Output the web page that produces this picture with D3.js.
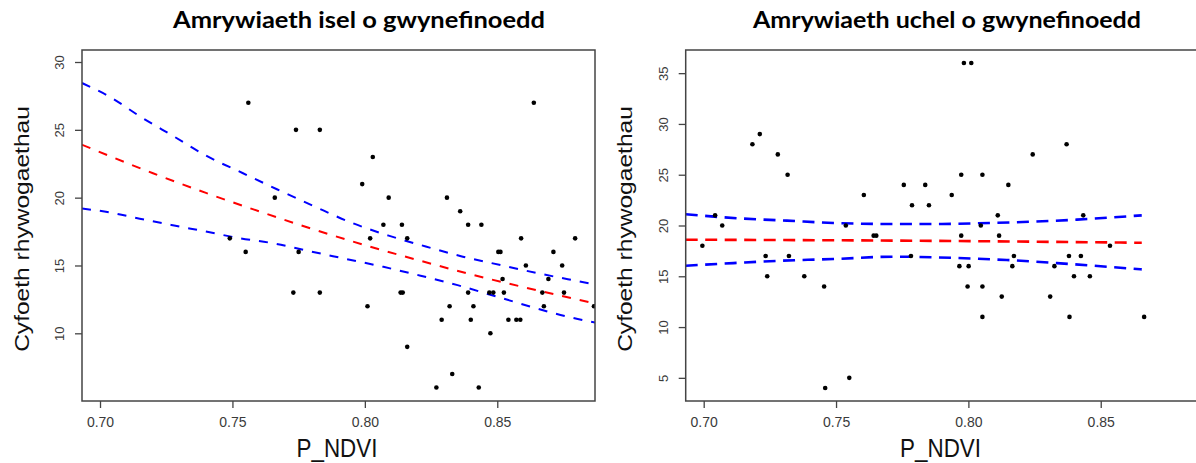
<!DOCTYPE html>
<html><head><meta charset="utf-8">
<script src="https://cdn.jsdelivr.net/npm/d3@7/dist/d3.min.js"></script>
<style>body{margin:0;background:#fff;} svg{display:block;}</style>
</head><body>
<svg id="c" width="1196" height="463"></svg>
<script>
// ---- Data: low habitat diversity panel ----
const lowNdvi = [0.749,0.755,0.756,0.766,0.773,0.774,0.775,0.783,0.783,0.799,0.801,0.802,0.803,0.807,0.809,0.8135,0.8143,0.814,0.816,0.816,0.827,0.829,0.831,0.832,0.833,0.836,0.839,0.839,0.840,0.841,0.843,0.844,0.847,0.8485,0.8474,0.8504,0.8512,0.852,0.8525,0.8542,0.8572,0.8587,0.859,0.8608,0.8638,0.867,0.8676,0.8693,0.8712,0.8745,0.8752,0.8794,0.8865];
const lowRichness = [17,16,27,20,13,25,16,25,13,21,12,17,23,18,20,13,13,18,17,9,6,11,20,12,7,19,18,13,11,12,6,18,13,13,10,16,16,14,13,11,11,11,17,15,27,13,12,14,16,15,13,17,12];
const lowFitX = [0.6932,0.72,0.74,0.76,0.78,0.80,0.82,0.84,0.86,0.887];
const lowFit = [23.9,21.8,20.35,19.0,17.7,16.5,15.4,14.35,13.4,12.2];
const lowUpperX = [0.6932,0.704,0.715,0.728,0.740,0.754,0.767,0.781,0.795,0.809,0.823,0.837,0.852,0.866,0.879,0.887];
const lowUpper = [28.45,27.4,26.0,24.5,23.1,21.8,20.6,19.35,18.15,17.2,16.4,15.65,15.0,14.4,13.9,13.6];
const lowLowerX = [0.6932,0.704,0.715,0.728,0.740,0.753,0.765,0.778,0.7925,0.807,0.821,0.835,0.849,0.862,0.877,0.887];
const lowLower = [19.2,18.9,18.45,17.95,17.5,17.0,16.65,16.1,15.5,14.9,14.25,13.55,12.75,12.0,11.2,10.8];
const lowYTicks = [10,15,20,25,30];

// ---- Data: high habitat diversity panel ----
const highNdvi = [0.6995,0.7043,0.707,0.7184,0.7212,0.7234,0.724,0.728,0.7317,0.7322,0.738,0.7455,0.7459,0.7537,0.755,0.7605,0.7642,0.7652,0.7756,0.7783,0.7787,0.7837,0.7851,0.7937,0.7966,0.7973,0.7973,0.7983,0.7997,0.8001,0.8011,0.8047,0.8053,0.8053,0.8053,0.8111,0.8116,0.8126,0.8151,0.8166,0.8172,0.8243,0.8309,0.8325,0.8371,0.838,0.8382,0.8399,0.8425,0.8434,0.8459,0.8535,0.8664];
const highRichness = [18,21,20,28,29,17,15,27,25,17,15,14,4,20,5,23,19,19,24,17,22,24,22,23,16,25,19,36,14,16,36,20,25,14,11,21,19,13,24,16,17,27,13,16,28,17,11,15,17,21,15,18,11];
const highFitX = [0.6932,0.78,0.8655];
const highFit = [18.6,18.5,18.3];
const highUpperX = [0.6932,0.7137,0.7314,0.749,0.769,0.79,0.808,0.8245,0.841,0.8655];
const highUpper = [21.1,20.7,20.48,20.25,20.15,20.15,20.25,20.38,20.58,21.0];
const highLowerX = [0.6932,0.7112,0.7288,0.749,0.772,0.7956,0.8145,0.8334,0.8472,0.8655];
const highLower = [16.04,16.3,16.53,16.7,16.93,16.8,16.6,16.3,16.04,15.68];
const highYTicks = [5,10,15,20,25,30,35];

const xTicks = [0.70,0.75,0.80,0.85];
const titles = ["Amrywiaeth isel o gwynefinoedd","Amrywiaeth uchel o gwynefinoedd"];
const yLabel = "Cyfoeth rhywogaethau";
const xLabel = "P_NDVI";

const svg = d3.select('#c');
const S = 1.17; // vertical stretch of the original image

function panel(cfg, idx){
  const x = d3.scaleLinear().domain([0.6932,0.8869]).range([cfg.left, cfg.right]);
  const y = d3.scaleLinear().domain(cfg.yDomain).range([401, 50]);
  const g = svg.append('g');
  const clipId = 'clip'+idx;
  svg.append('clipPath').attr('id', clipId).append('rect')
    .attr('x', cfg.left).attr('y', 50).attr('width', cfg.right-cfg.left).attr('height', 351);

  // axes
  const xa = g.append('g').attr('transform','translate(0,401)')
    .call(d3.axisBottom(x).tickValues(xTicks).tickSize(7).tickPadding(9).tickFormat(d3.format('.2f')));
  const ya = g.append('g').attr('transform',`translate(${cfg.left},0)`)
    .call(d3.axisLeft(y).tickValues(cfg.yTicks).tickSize(7).tickFormat(d3.format('d')));
  [xa, ya].forEach(a => {
    a.select('.domain').remove();
    a.selectAll('line').attr('stroke','#444').attr('stroke-width',1.3);
    a.selectAll('text').attr('fill','#3a3a3a').attr('font-size',14).attr('font-family','"Liberation Sans", Arial, sans-serif');
  });
  ya.selectAll('text').attr('transform','rotate(-90)').attr('x',0).attr('y',-18).attr('dy',0).attr('text-anchor','middle').attr('font-size',13);

  // curves
  const gc = g.append('g').attr('clip-path', `url(#${clipId})`);
  cfg.curves.forEach(c => {
    const line = d3.line().x((d,i)=>x(c.xs[i])).y((d,i)=>y(c.ys[i])).curve(d3.curveMonotoneX);
    gc.append('path').attr('d', line(c.ys)).attr('fill','none').attr('stroke', c.color)
      .attr('stroke-width', cfg.lw).attr('stroke-dasharray', cfg.dash);
  });

  // points
  gc.selectAll('circle.pt').data(cfg.ys).enter().append('circle')
    .attr('cx',(d,i)=>x(cfg.xs[i])).attr('cy',d=>y(d)).attr('r',2.3).attr('fill','#000');

  // box
  g.append('rect').attr('x',cfg.left).attr('y',50).attr('width',cfg.right-cfg.left).attr('height',351)
    .attr('fill','none').attr('stroke','#444').attr('stroke-width',1.5);

  // labels
  const cx = (cfg.left+cfg.right)/2;
  g.append('text').attr('transform',`translate(${cx-1.5},457) scale(1,${S})`)
    .attr('text-anchor','middle').attr('font-size',22.4).attr('fill','#111')
    .attr('font-family','"Liberation Sans", Arial, sans-serif').text(xLabel);
  g.append('text').attr('transform',`translate(${cfg.left-53.5},229) scale(1,${S}) rotate(-90)`)
    .attr('text-anchor','middle').attr('font-size',21).attr('fill','#111')
    .attr('font-family','"Liberation Sans", Arial, sans-serif').text(yLabel);
  g.append('text').attr('x',0).attr('y',0)
    .attr('transform',`translate(${cfg.titleCx},28) scale(1,${S})`)
    .attr('text-anchor','middle').attr('font-size',19).attr('font-weight','bold')
    .attr('font-family','Lato, "Open Sans", sans-serif').attr('fill','#000')
    .attr('textLength', cfg.titleW).attr('lengthAdjust','spacingAndGlyphs')
    .text(cfg.title);
}

panel({left:82, right:595, yDomain:[5.01,30.885], yTicks:lowYTicks,
  xs:lowNdvi, ys:lowRichness, lw:2, dash:'9,9',
  curves:[{xs:lowUpperX, ys:lowUpper, color:'#0000ff'},{xs:lowLowerX, ys:lowLower, color:'#0000ff'},{xs:lowFitX, ys:lowFit, color:'#ff0000'}],
  title:titles[0], titleCx:359, titleW:372}, 0);

panel({left:685.7, right:1198.4, yDomain:[2.72,37.28], yTicks:highYTicks,
  xs:highNdvi, ys:highRichness, lw:2.6, dash:'12,7.5',
  curves:[{xs:highUpperX, ys:highUpper, color:'#0000ff'},{xs:highLowerX, ys:highLower, color:'#0000ff'},{xs:highFitX, ys:highFit, color:'#ff0000'}],
  title:titles[1], titleCx:947, titleW:388}, 1);
</script>
</body></html>
